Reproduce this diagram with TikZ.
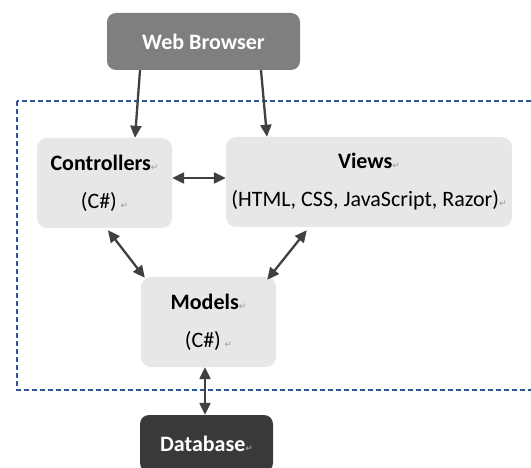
\documentclass[tikz,border=0pt]{standalone}
\usepackage{fontspec}
\setmainfont{Carlito}
\newfontfamily\symfont{DejaVu Sans}
\usetikzlibrary{arrows.meta}
\definecolor{browsergray}{HTML}{7F7F7F}
\definecolor{boxgray}{HTML}{E8E6E6}
\definecolor{dbdark}{HTML}{3A3838}
\definecolor{arrowgray}{HTML}{404040}
\definecolor{dashblue}{HTML}{2F5597}
\newcommand\retmark{{\symfont\fontsize{9}{9}\selectfont\color{gray!80}↵}}

\begin{document}
\begin{tikzpicture}[x=1pt, y=-1pt,
    part/.style={rounded corners=10pt, fill=boxgray, align=center,
      inner sep=0pt, font=\fontsize{22}{26}\selectfont},
    outer/.style={rounded corners=9pt, align=center, inner sep=0pt,
      text=white, font=\bfseries\fontsize{22}{26}\selectfont},
    link/.style={line width=2.3pt, arrowgray,
      {Triangle[width=11pt,length=12pt]}-{Triangle[width=11pt,length=12pt]}},
    feed/.style={line width=2.3pt, arrowgray, -{Triangle[width=11pt,length=12pt]}}]
    \useasboundingbox (0,0) rectangle (531,468);

    % application boundary
    \draw [dashblue, line width=1.5pt, dash pattern=on 5pt off 3pt]
      (17,101) rectangle (545,390);

    \node [outer, fill=browsergray, minimum width=193pt, minimum height=57pt]
      (browser) at (203.5,41.5) {Web Browser};

    \node [part, minimum width=135pt, minimum height=90pt]
      (ctrl) at (104.5,183) {\textbf{Controllers}\retmark\\[12pt](C\#)\,\retmark};
    \node [part, minimum width=286pt, minimum height=90pt]
      (views) at (369,182) {\textbf{Views}\retmark\\[12pt](HTML, CSS, JavaScript, Razor)\retmark};
    \node [part, minimum width=135pt, minimum height=90pt]
      (models) at (208.5,322) {\textbf{Models}\retmark\\[12pt](C\#)\,\retmark};

    \node [outer, fill=dbdark, minimum width=133pt, minimum height=57pt]
      (db) at (206.5,443.5) {Database\retmark};

    \draw [feed] ([xshift=-63.5pt]browser.south) -- ([xshift=30.5pt]ctrl.north);
    \draw [feed] ([xshift=57.5pt]browser.south) -- ([xshift=-102pt]views.north);

    \draw [link] ([yshift=5pt]ctrl.east) -- ([yshift=4pt]views.west);
    \draw [link] ([xshift=3.5pt,yshift=-2pt]ctrl.south)
      -- ([xshift=4pt,yshift=-1pt]models.north west);
    \draw [link] ([xshift=81pt,yshift=-3pt]views.south west)
      -- ([xshift=-9pt,yshift=-3pt]models.north east);
    \draw [link] ([xshift=-3.5pt]models.south) -- ([xshift=-1.5pt]db.north);

  \end{tikzpicture}
\end{document}
